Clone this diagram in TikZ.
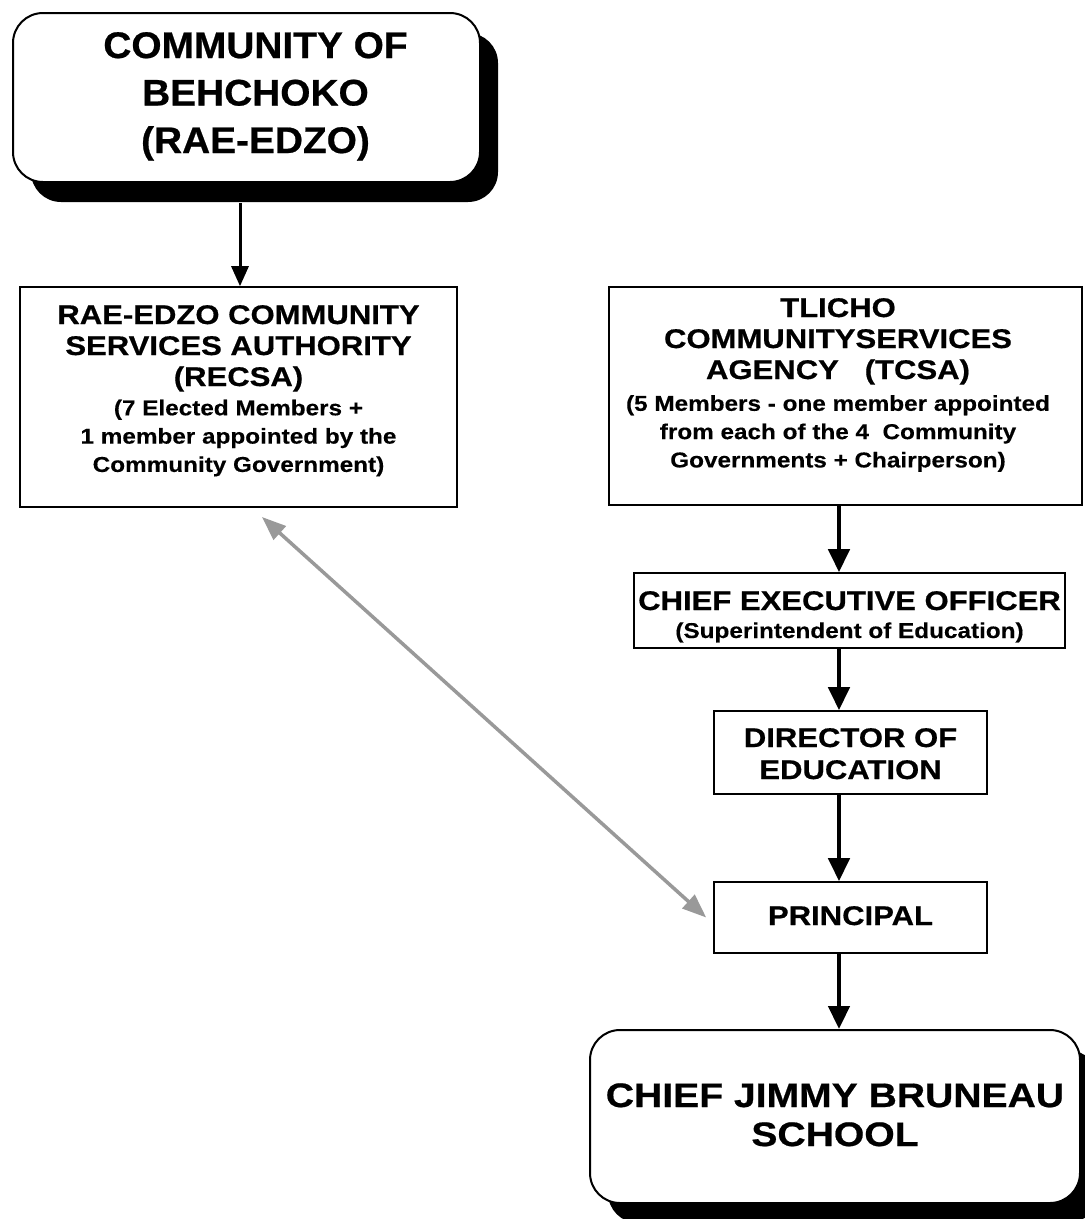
\documentclass[tikz,border=0pt]{standalone}
\usepackage{fontspec}
\setmainfont{Liberation Sans}
\newfontfamily\plainf[FakeStretch=1.05,FakeBold=0.6]{Liberation Sans}
\newfontfamily\widef[FakeStretch=1.15,FakeBold=0.6]{Liberation Sans}
\newfontfamily\smallwf[FakeStretch=1.13,FakeBold=0.3]{Liberation Sans}
\newcommand\nsp{\spaceskip=\fontdimen2\font\relax\xspaceskip=\spaceskip}
\newcommand\topfont{\plainf\bfseries\fontsize{37}{47.5}\selectfont\nsp}
\newcommand\medfont{\widef\bfseries\fontsize{27}{31}\selectfont\nsp}
\newcommand\smlfont{\smallwf\bfseries\fontsize{21.5}{28.3}\selectfont\nsp}
\newcommand\schfont{\widef\bfseries\fontsize{34}{39}\selectfont\nsp}
\usetikzlibrary{arrows.meta,shadows}
\definecolor{arrgray}{gray}{0.6}
\begin{document}
\begin{tikzpicture}[x=1pt,y=-1pt]
\tikzset{
 sqbox/.style={draw, line width=1.6pt, inner sep=0pt, align=center, text height=0pt, fill=white},
 rbox/.style={sqbox, rounded corners=30pt, line width=2pt,
   drop shadow={shadow xshift=18pt, shadow yshift=-20pt, fill=black, opacity=1}},
 darr/.style={line width=4.5pt, -{Triangle[width=21pt,length=23pt]}},
 thinarr/.style={line width=3pt, -{Triangle[width=17pt,length=20pt]}},
 garr/.style={draw=arrgray, line width=3.5pt,
   {Triangle[width=18pt,length=24pt]}-{Triangle[width=18pt,length=24pt]}},
}
\fill[white] (0,0) rectangle (1085,1219);
\useasboundingbox (0,0) rectangle (1085,1219);
\clip (0,0) rectangle (1085,1219);

\node[rbox, minimum width=467pt, minimum height=169pt, text width=467pt, text depth=79pt]
  (top) at (246.5,97.5) {{\topfont\advance\leftskip by 18pt\relax COMMUNITY OF\\BEHCHOKO\\(RAE-EDZO)\par}};

\node[sqbox, minimum width=437pt, minimum height=220pt, text width=437pt, text depth=146pt]
  (recsa) at (238.5,397) {{\medfont RAE-EDZO COMMUNITY\\SERVICES AUTHORITY\\(RECSA)\par}\vspace{1pt}{\smlfont (7 Elected Members +\\1 member appointed by the\\Community Government)\par}};

\node[sqbox, minimum width=473pt, minimum height=218pt, text width=473pt, text depth=158pt]
  (tlicho) at (845.5,396) {\advance\rightskip by 15pt\relax{\medfont TLICHO\\COMMUNITYSERVICES\\AGENCY\ \ \ (TCSA)\par}\vspace{3.5pt}{\smlfont (5 Members - one member appointed\\from each of the 4\ \ Community\\Governments + Chairperson)\par}};

\node[sqbox, minimum width=431pt, minimum height=75pt, text width=431pt, text depth=1pt]
  (ceo) at (849.5,610.5) {{\medfont CHIEF EXECUTIVE OFFICER\par}{\smlfont\baselineskip=28pt (Superintendent of Education)\par}};

\node[sqbox, minimum width=273pt, minimum height=83pt, text width=273pt, text depth=11pt]
  (dir) at (850.5,752.5) {{\medfont\baselineskip=32pt DIRECTOR OF\\EDUCATION\par}};

\node[sqbox, minimum width=273pt, minimum height=71pt, text width=273pt, text height=15pt, text depth=0pt]
  (prin) at (850.5,917.5) {{\medfont PRINCIPAL\par}};

\node[rbox, minimum width=490pt, minimum height=173pt, text width=490pt, text depth=19pt]
  (school) at (835,1116.5) {{\schfont CHIEF JIMMY BRUNEAU\\SCHOOL\par}};

\coordinate (colx) at (839,0);
\draw[thinarr] ([xshift=-6.5pt,yshift=-20pt]top.south) -- ([xshift=1.5pt]recsa.north);
\draw[darr] (tlicho.south -| colx) -- (ceo.north -| colx);
\draw[darr] (ceo.south -| colx) -- (dir.north -| colx);
\draw[darr] (dir.south -| colx) -- (prin.north -| colx);
\draw[darr] (prin.south -| colx) -- (school.north -| colx);

\coordinate (gA) at (262,517);
\draw[garr] (gA) -- ([xshift=-7pt]prin.west);
\end{tikzpicture}
\end{document}
